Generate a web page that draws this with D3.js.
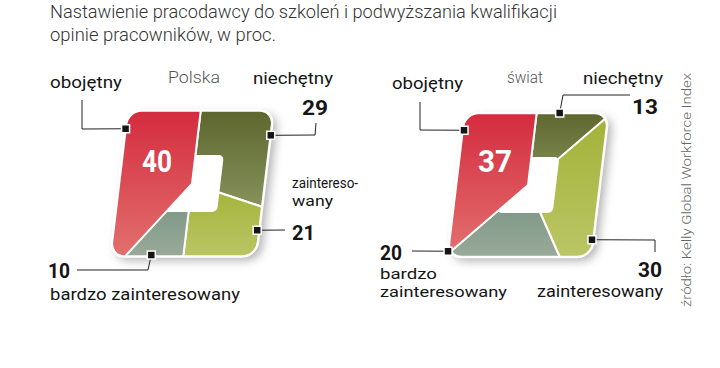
<!DOCTYPE html>
<html><head><meta charset="utf-8">
<script src="https://cdn.jsdelivr.net/npm/d3@7"></script>
<style>body{margin:0;background:#fff}svg{display:block}</style>
</head><body>
<svg id="c" width="720" height="368"></svg>
<script>
// ---------- data ----------
const categories = ["niechętny", "zainteresowany", "bardzo zainteresowany", "obojętny"];
const regions = ["Polska", "świat"];
const valuesPolska = [29, 21, 10, 40];
const valuesSwiat = [13, 30, 20, 37];
const titleLines = ["Nastawienie pracodawcy do szkoleń i podwyższania kwalifikacji", "opinie pracowników, w proc."];
const sourceText = "źródło: Kelly Global Workforce Index";
const highlight = "obojętny";

// ---------- styles ----------
const topColor = d3.scaleOrdinal().domain(categories).range(["#5b652c", "#a2b237", "#73907e", "#d42a3e"]);
const botColor = d3.scaleOrdinal().domain(categories).range(["#87915b", "#bbc666", "#9bab9b", "#e2716e"]);
const skewK = -0.12;

// ---------- layout (annotation positions) ----------
const panels = [
  { name: regions[0], values: valuesPolska, cx: 192, cy: 183.5, h: 73,
    title: { x: 168, y: 83, w: 52 },
    labels: {
      "niechętny": { m: [1, -0.66], lead: [[315, 135], [316, 123]], num: { x: 302, y: 115, w: 26 }, lines: [["niechętny", 253, 84, 80]] },
      "zainteresowany": { m: [0.97, 0.64], lead: [[285, 230]], num: { x: 292, y: 240, w: 23 }, lines: [["zaintereso-", 292, 188, 66], ["wany", 292, 205.5, 41]] },
      "bardzo zainteresowany": { m: [-0.44, 0.98], lead: [[148, 270], [77, 270]], num: { x: 48, y: 278, w: 22 }, lines: [["bardzo zainteresowany", 50, 300, 190]] },
      "obojętny": { m: [-1, -0.75], lead: [[82, 129], [82, 100]], num: { x: 142, y: 172, w: 30, big: true }, lines: [["obojętny", 50, 88, 72]] }
    } },
  { name: regions[1], values: valuesSwiat, cx: 528, cy: 185, h: 72,
    title: { x: 507, y: 83, w: 36 },
    labels: {
      "niechętny": { m: [0.32, -1], lead: [[563, 95], [630, 95]], num: { x: 632, y: 114, w: 26 }, lines: [["niechętny", 583, 84, 80]] },
      "zainteresowany": { m: [0.98, 0.76], lead: [[655, 240], [655, 252]], num: { x: 638, y: 277, w: 24 }, lines: [["zainteresowany", 537, 297, 126]] },
      "bardzo zainteresowany": { m: [-1, 0.92], lead: [[412, 251]], num: { x: 380, y: 260, w: 22 }, lines: [["bardzo", 380, 279, 57], ["zainteresowany", 380, 297, 127]] },
      "obojętny": { m: [-0.98, -0.76], lead: [[420, 130], [420, 102]], num: { x: 478, y: 172, w: 34, big: true }, lines: [["obojętny", 392, 89, 71]] }
    } }
];

const svg = d3.select("#c");
const defs = svg.append("defs");

// gradients
categories.forEach((c, i) => {
  const g = defs.append("linearGradient").attr("id", "grad" + i).attr("x1", 0).attr("y1", 0).attr("x2", 0).attr("y2", 1);
  g.append("stop").attr("offset", "0%").attr("stop-color", topColor(c));
  g.append("stop").attr("offset", "100%").attr("stop-color", botColor(c));
});
const f = defs.append("filter").attr("id", "shadow").attr("x", "-30%").attr("y", "-30%").attr("width", "160%").attr("height", "160%");
f.append("feDropShadow").attr("dx", 5).attr("dy", 4).attr("stdDeviation", 5).attr("flood-color", "#000").attr("flood-opacity", 0.3);

// title
svg.append("g").selectAll("text").data(titleLines).join("text")
  .attr("x", 50).attr("y", (d, i) => 18 + i * 23)
  .attr("textLength", (d, i) => i === 0 ? 507 : 226).attr("lengthAdjust", "spacingAndGlyphs")
  .style("font-family", "Roboto").style("font-weight", 300).style("font-size", "18px").attr("fill", "#333")
  .text(d => d);

// source
svg.append("text").attr("transform", "translate(691,307) rotate(-90)")
  .attr("textLength", 234).attr("lengthAdjust", "spacingAndGlyphs")
  .style("font-family", "Roboto").style("font-weight", 300).style("font-size", "12.5px").attr("fill", "#666")
  .text(sourceText);

function perim(t) {
  if (t <= 1) return [t, -1];
  if (t <= 3) return [1, -1 + (t - 1)];
  if (t <= 5) return [1 - (t - 3), 1];
  if (t <= 7) return [-1, 1 - (t - 5)];
  return [-1 + (t - 7), -1];
}

const pie = d3.pie().sort(null).value(d => d);

panels.forEach((p, pi) => {
  const s = d3.scaleLinear().domain([-1, 1]).range([-p.h, p.h]);
  const toScreen = ([u, v]) => [p.cx + s(u) + skewK * s(v), p.cy + s(v)];
  const arcs = pie(p.values).map((a, i) => ({ ...a, cat: categories[i], ci: i }));

  const slicePath = a => {
    const t0 = a.startAngle / (2 * Math.PI) * 8, t1 = a.endAngle / (2 * Math.PI) * 8;
    const pts = [[0, 0], perim(t0)];
    [1, 3, 5, 7].forEach(c => { if (c > t0 && c < t1) pts.push(perim(c)); });
    pts.push(perim(t1));
    return d3.line()(pts.map(([u, v]) => [s(u * 1.04), s(v * 1.04)])) + "Z";
  };

  const g = svg.append("g").attr("transform", `translate(${p.cx},${p.cy}) matrix(1,0,${skewK},1,0,0)`);
  const r = 14;
  defs.append("clipPath").attr("id", "clip" + pi).append("rect")
    .attr("x", s(-1)).attr("y", s(-1)).attr("width", s(1) - s(-1)).attr("height", s(1) - s(-1)).attr("rx", r);

  g.append("rect").attr("x", s(-1)).attr("y", s(-1)).attr("width", s(1) - s(-1)).attr("height", s(1) - s(-1))
    .attr("rx", r).attr("fill", "#fff").attr("filter", "url(#shadow)");

  const cg = g.append("g").attr("clip-path", `url(#clip${pi})`);
  cg.selectAll("path.sl").data(arcs.filter(a => a.cat !== highlight)).join("path").attr("class", "sl")
    .attr("d", slicePath).attr("fill", a => `url(#grad${a.ci})`).attr("stroke", "#fff").attr("stroke-width", 2).attr("stroke-linejoin", "round");
  const hh = 0.39;
  cg.append("rect").attr("x", s(-hh)).attr("y", s(-hh)).attr("width", s(hh) - s(-hh)).attr("height", s(hh) - s(-hh))
    .attr("rx", 5).attr("fill", "#fff");
  cg.selectAll("path.hl").data(arcs.filter(a => a.cat === highlight)).join("path").attr("class", "hl")
    .attr("d", slicePath).attr("fill", a => `url(#grad${a.ci})`).attr("stroke", "#fff").attr("stroke-width", 2).attr("stroke-linejoin", "round");

  g.append("rect").attr("x", s(-1)).attr("y", s(-1)).attr("width", s(1) - s(-1)).attr("height", s(1) - s(-1))
    .attr("rx", r).attr("fill", "none").attr("stroke", "#fff").attr("stroke-width", 2.5);

  // region name
  svg.append("text").attr("x", p.title.x).attr("y", p.title.y)
    .attr("textLength", p.title.w).attr("lengthAdjust", "spacingAndGlyphs")
    .style("font-family", "Roboto").style("font-weight", 300).style("font-size", "17px").attr("fill", "#555")
    .text(p.name);

  // labels, leaders, markers
  arcs.forEach(a => {
    const L = p.labels[a.cat];
    const mp = toScreen(L.m);
    svg.append("path").attr("d", d3.line()([mp, ...L.lead])).attr("fill", "none").attr("stroke", "#222").attr("stroke-width", 1);
    svg.append("rect").attr("x", mp[0] - 4).attr("y", mp[1] - 4).attr("width", 8).attr("height", 8)
      .attr("fill", "#151515").attr("stroke", "#fff").attr("stroke-width", 1.5);
    const fs = L.lines.length > 1 ? "15px" : "16.5px";
    L.lines.forEach(([t, x, y, w]) => {
      svg.append("text").attr("x", x).attr("y", y).attr("textLength", w).attr("lengthAdjust", "spacingAndGlyphs")
        .style("font-family", "Roboto").style("font-weight", 400).style("font-size", fs).attr("fill", "#151515")
        .text(t);
    });
    svg.append("text").attr("x", L.num.x).attr("y", L.num.y).attr("textLength", L.num.w).attr("lengthAdjust", "spacingAndGlyphs")
      .style("font-family", "Roboto").style("font-weight", 700).style("font-size", L.num.big ? "32px" : "21px")
      .attr("fill", L.num.big ? "#fff" : "#151515")
      .text(a.data);
  });
});
</script>
</body></html>
